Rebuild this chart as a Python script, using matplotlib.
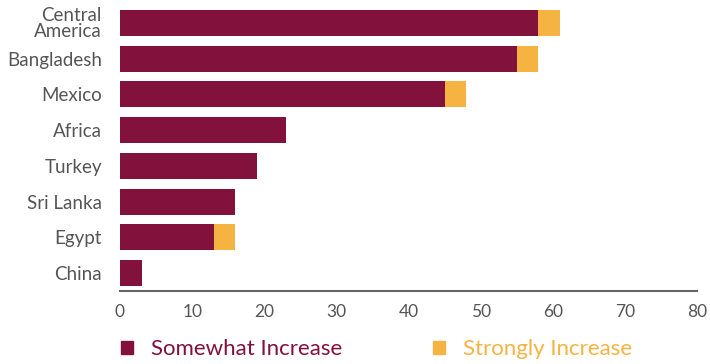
import matplotlib.pyplot as plt
from matplotlib.patches import Patch

countries = ['Central\nAmerica', 'Bangladesh', 'Mexico', 'Africa', 'Turkey', 'Sri Lanka', 'Egypt', 'China']
somewhat = [58, 55, 45, 23, 19, 16, 13, 3]
strongly = [3, 3, 3, 0, 0, 0, 3, 0]
xticks = [0, 10, 20, 30, 40, 50, 60, 70, 80]

maroon = '#82113b'
gold = '#f5b342'
grey = '#555555'

plt.rcParams['font.family'] = ['Lato', 'DejaVu Sans']

fig = plt.figure(figsize=(7.1, 3.64), dpi=100)
ax = fig.add_axes([0.169, 0.2005, 0.813, 0.7855])

ypos = list(range(len(countries)))
ax.barh(ypos, somewhat, height=0.73, color=maroon)
ax.barh(ypos, strongly, left=somewhat, height=0.73, color=gold)

ax.set_ylim(len(countries) - 0.5, -0.5)
ax.set_xlim(0, 80)
ax.set_xticks(xticks)
ax.set_yticks(ypos)
ax.set_yticklabels(countries, linespacing=0.9)
ax.tick_params(axis='both', length=0, colors=grey)
ax.tick_params(axis='y', pad=13, labelsize=13.5)
ax.tick_params(axis='x', pad=9, labelsize=12.5)
for s in ['top', 'right', 'left']:
    ax.spines[s].set_visible(False)
ax.spines['bottom'].set_color('#666666')
ax.spines['bottom'].set_linewidth(1.5)

handles = [Patch(color=maroon, label='Somewhat Increase'),
           Patch(color=gold, label='Strongly Increase')]
leg = fig.legend(handles=handles, loc='center left', bbox_to_anchor=(0.170, 0.041),
                 ncol=2, frameon=False, fontsize=16, handlelength=0.55, handleheight=0.55,
                 handletextpad=0.8, columnspacing=4.1, borderpad=0, borderaxespad=0)
for t, c in zip(leg.get_texts(), [maroon, gold]):
    t.set_color(c)

fig.savefig('out.png', dpi=100)
